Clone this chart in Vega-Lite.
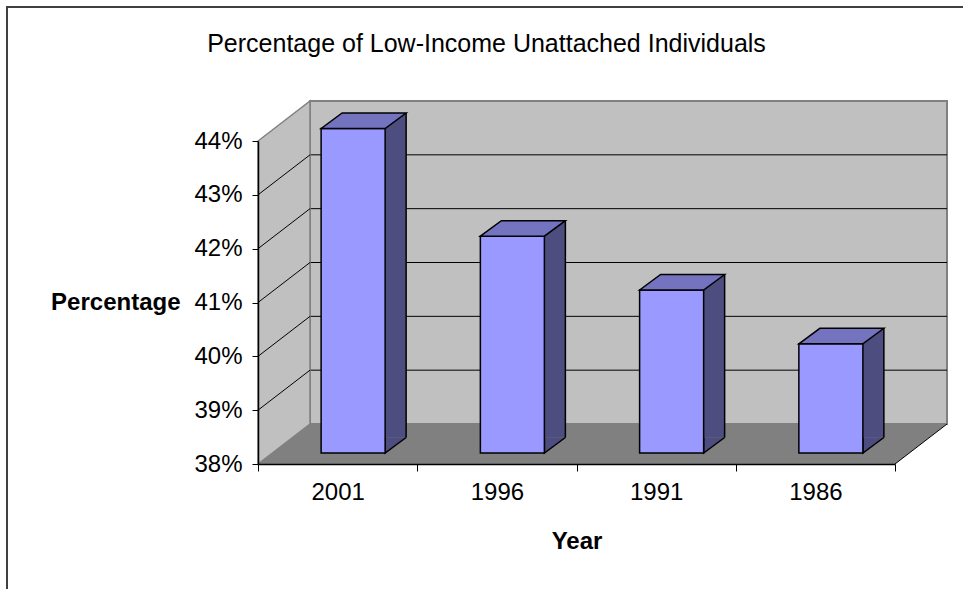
{
  "$schema": "https://vega.github.io/schema/vega-lite/v6.json",
  "width": 637,
  "height": 323,
  "autosize": {"type": "none"},
  "padding": {"left": 258, "top": 141, "right": 68, "bottom": 125},
  "background": "white",
  "config": {"view": {"stroke": null}, "font": "Liberation Sans"},
  "title": {
    "text": "Percentage of Low-Income Unattached Individuals",
    "fontSize": 25,
    "fontWeight": "normal",
    "font": "Liberation Sans",
    "color": "black",
    "anchor": "middle",
    "frame": "group",
    "dx": -90,
    "offset": -54
  },
  "datasets": {
    "bars": [
      {"Year": "2001", "Percentage": 0.44},
      {"Year": "1996", "Percentage": 0.42},
      {"Year": "1991", "Percentage": 0.41},
      {"Year": "1986", "Percentage": 0.40}
    ],
    "grid": [
      {"level": 0.39}, {"level": 0.40}, {"level": 0.41}, {"level": 0.42}, {"level": 0.43}
    ],
    "one": [{}]
  },
  "layer": [
    {
      "data": {"name": "one"},
      "mark": {"type": "rect", "fill": "#C0C0C0", "stroke": "#808080", "strokeWidth": 2, "xOffset": 52, "x2Offset": 52, "yOffset": -40, "y2Offset": -40},
      "encoding": {
        "x": {"value": 0},
        "x2": {"value": "width"},
        "y": {"datum": 0.44, "type": "quantitative", "scale": {"domain": [0.38, 0.44], "nice": false, "zero": false}},
        "y2": {"datum": 0.38}
      }
    },
    {
      "data": {"name": "grid"},
      "mark": {"type": "rule", "color": "black", "strokeWidth": 1, "xOffset": 52, "x2Offset": 52, "yOffset": -40},
      "encoding": {
        "x": {"value": 0},
        "x2": {"value": "width"},
        "y": {"field": "level", "type": "quantitative"}
      }
    },
    {
      "data": {"name": "one"},
      "mark": {"type": "point", "shape": "M0,0L0,-323L52,-363L52,-40Z", "size": 4, "filled": true, "fill": "#C0C0C0", "stroke": "#808080", "strokeWidth": 1.5, "opacity": 1},
      "encoding": {
        "x": {"value": 0},
        "y": {"datum": 0.38, "type": "quantitative"}
      }
    },
    {
      "data": {"name": "grid"},
      "mark": {"type": "point", "shape": "M0,0L52,-40", "size": 4, "filled": false, "stroke": "black", "strokeWidth": 1, "opacity": 1},
      "encoding": {
        "x": {"value": 0},
        "y": {"field": "level", "type": "quantitative"}
      }
    },
    {
      "data": {"name": "one"},
      "mark": {"type": "point", "shape": "M0,0L52,-40L689,-40L637,0Z", "size": 4, "filled": true, "fill": "#808080", "strokeWidth": 0, "opacity": 1},
      "encoding": {
        "x": {"value": 0},
        "y": {"datum": 0.38, "type": "quantitative"}
      }
    },
    {
      "data": {"name": "one"},
      "mark": {"type": "point", "shape": "M637,0L689,-40", "size": 4, "filled": false, "stroke": "black", "strokeWidth": 1, "opacity": 1},
      "encoding": {
        "x": {"value": 0},
        "y": {"datum": 0.38, "type": "quantitative"}
      }
    },
    {
      "data": {"name": "bars"},
      "mark": {"type": "bar", "fill": "#4D4D80", "strokeWidth": 0, "width": {"band": 0.402}, "xOffset": 36.5, "x2Offset": 36.5, "yOffset": -28, "y2Offset": -26.5},
      "encoding": {
        "x": {"field": "Year", "type": "nominal", "sort": ["2001", "1996", "1991", "1986"], "scale": {"paddingInner": 0, "paddingOuter": 0}},
        "y": {"field": "Percentage", "type": "quantitative"},
        "y2": {"datum": 0.38}
      }
    },
    {
      "data": {"name": "bars"},
      "mark": {"type": "point", "shape": "M47.5,-26.5L47.5,-11L68.5,-26.5", "size": 4, "filled": true, "fill": "#4D4D80", "stroke": "black", "strokeWidth": 1.5, "opacity": 1},
      "encoding": {
        "x": {"field": "Year", "type": "nominal", "sort": ["2001", "1996", "1991", "1986"]},
        "y": {"datum": 0.38, "type": "quantitative"}
      }
    },
    {
      "data": {"name": "bars"},
      "mark": {"type": "bar", "fill": "#9999FF", "stroke": "black", "strokeWidth": 1.5, "width": {"band": 0.402}, "xOffset": 15.5, "x2Offset": 15.5, "yOffset": -12.5, "y2Offset": -11},
      "encoding": {
        "x": {
          "field": "Year", "type": "nominal", "sort": ["2001", "1996", "1991", "1986"],
          "axis": {
            "title": "Year", "titleFontSize": 24, "titleFontWeight": "bold", "titleColor": "black", "titlePadding": 25,
            "labelFontSize": 24, "labelColor": "black", "labelAngle": 0, "labelAlign": "center", "labelPadding": 21,
            "tickBand": "extent", "tickSize": 7, "tickColor": "black", "domainColor": "black", "domainWidth": 1.5, "zindex": 1
          }
        },
        "y": {
          "field": "Percentage", "type": "quantitative",
          "axis": {
            "values": [0.38, 0.39, 0.40, 0.41, 0.42, 0.43, 0.44], "format": ".0%",
            "title": "Percentage", "titleAngle": 0, "titleFontSize": 24, "titleFontWeight": "bold", "titleColor": "black",
            "titleAlign": "right", "titleBaseline": "middle", "titleX": -78, "titleY": 161.5,
            "labelFontSize": 24, "labelColor": "black", "labelPadding": 10,
            "tickSize": 6, "tickColor": "black", "domainColor": "black", "domainWidth": 1.5, "grid": false, "zindex": 1
          }
        },
        "y2": {"datum": 0.38}
      }
    },
    {
      "data": {"name": "bars"},
      "mark": {"type": "point", "shape": "M-16.5,-12.5L4.5,-28L68.5,-28L47.5,-12.5Z", "size": 4, "filled": true, "fill": "#7373BF", "stroke": "black", "strokeWidth": 1.5, "opacity": 1},
      "encoding": {
        "x": {"field": "Year", "type": "nominal", "sort": ["2001", "1996", "1991", "1986"]},
        "y": {"field": "Percentage", "type": "quantitative"}
      }
    },
    {
      "data": {"name": "bars"},
      "mark": {"type": "rule", "color": "black", "strokeWidth": 1.5, "xOffset": 68.5, "yOffset": -28, "y2Offset": -26.5},
      "encoding": {
        "x": {"field": "Year", "type": "nominal", "sort": ["2001", "1996", "1991", "1986"], "bandPosition": 0.5},
        "y": {"field": "Percentage", "type": "quantitative"},
        "y2": {"datum": 0.38}
      }
    },
    {
      "data": {"name": "one"},
      "mark": {"type": "point", "shape": "M-251,460L-251,-134L720,-134", "size": 4, "filled": false, "stroke": "#404040", "strokeWidth": 2, "opacity": 1},
      "encoding": {
        "x": {"value": 0},
        "y": {"datum": 0.44, "type": "quantitative"}
      }
    }
  ]
}
